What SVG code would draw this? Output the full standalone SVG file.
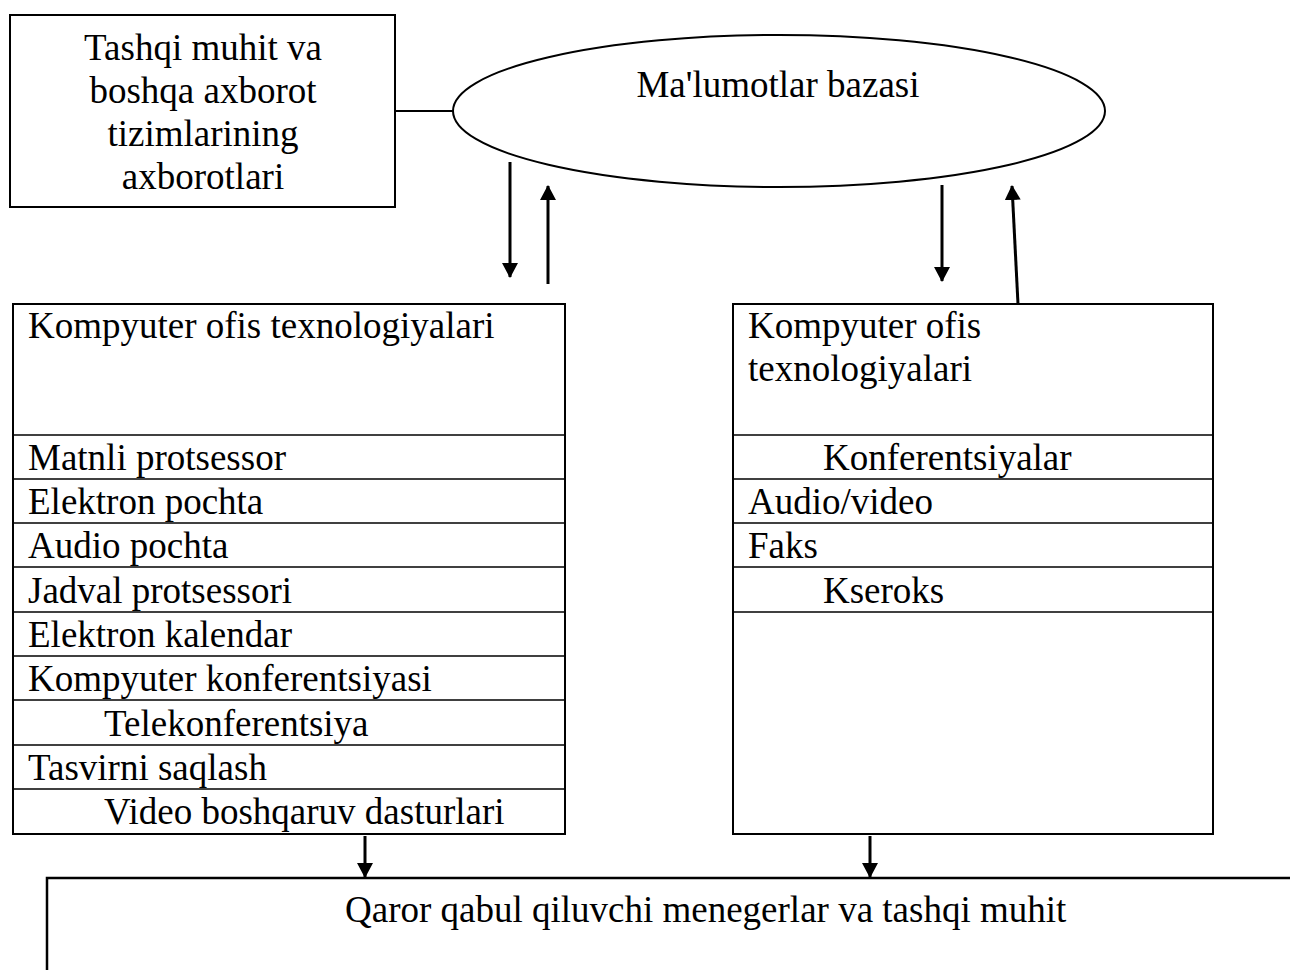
<svg xmlns="http://www.w3.org/2000/svg" width="1290" height="970" viewBox="0 0 1290 970">
  <style>
    .box { fill: #fff; stroke: #000; stroke-width: 2; }
    .row { stroke: #000; stroke-width: 1.5; }
    .t { font-family: "Liberation Serif", "Times New Roman", serif; font-size: 37px; fill: #000; }
    .c { text-anchor: middle; }
    .conn { stroke: #000; stroke-width: 3; fill: none; marker-end: url(#ah); }
  </style>
  <defs>
    <!-- solid triangular arrowhead -->
    <marker id="ah" viewBox="0 0 15 16" refX="14" refY="8" markerWidth="15" markerHeight="16" markerUnits="userSpaceOnUse" orient="auto">
      <path d="M0,0 L15,8 L0,16 Z" fill="#000" stroke="none"/>
    </marker>
  </defs>
  <rect width="1290" height="970" fill="#fff"/>

  <!-- external information sources -->
  <g id="external">
    <rect class="box" x="10" y="15" width="385" height="192"/>
    <text class="t c" x="203" y="60">Tashqi muhit va</text>
    <text class="t c" x="203" y="103">boshqa axborot</text>
    <text class="t c" x="203" y="146">tizimlarining</text>
    <text class="t c" x="203" y="189">axborotlari</text>
  </g>

  <!-- database -->
  <g id="database">
    <ellipse cx="779" cy="111" rx="326" ry="76" fill="#fff" stroke="#000" stroke-width="2"/>
    <text class="t c" x="778" y="97">Ma'lumotlar bazasi</text>
  </g>

  <!-- left technology column -->
  <g id="office-left">
    <rect class="box" x="13" y="304" width="552" height="530"/>
    <line class="row" x1="13" y1="435" x2="565" y2="435"/>
    <line class="row" x1="13" y1="479" x2="565" y2="479"/>
    <line class="row" x1="13" y1="523" x2="565" y2="523"/>
    <line class="row" x1="13" y1="567" x2="565" y2="567"/>
    <line class="row" x1="13" y1="612" x2="565" y2="612"/>
    <line class="row" x1="13" y1="656" x2="565" y2="656"/>
    <line class="row" x1="13" y1="700" x2="565" y2="700"/>
    <line class="row" x1="13" y1="745" x2="565" y2="745"/>
    <line class="row" x1="13" y1="789" x2="565" y2="789"/>
    <text class="t" x="28" y="338">Kompyuter ofis texnologiyalari</text>
    <text class="t" x="28" y="470">Matnli protsessor</text>
    <text class="t" x="28" y="514">Elektron pochta</text>
    <text class="t" x="28" y="558">Audio pochta</text>
    <text class="t" x="28" y="603">Jadval protsessori</text>
    <text class="t" x="28" y="647">Elektron kalendar</text>
    <text class="t" x="28" y="691">Kompyuter konferentsiyasi</text>
    <text class="t" x="104" y="736">Telekonferentsiya</text>
    <text class="t" x="28" y="780">Tasvirni saqlash</text>
    <text class="t" x="104" y="824">Video boshqaruv dasturlari</text>
  </g>

  <!-- right technology column -->
  <g id="office-right">
    <rect class="box" x="733" y="304" width="480" height="530"/>
    <line class="row" x1="733" y1="435" x2="1213" y2="435"/>
    <line class="row" x1="733" y1="479" x2="1213" y2="479"/>
    <line class="row" x1="733" y1="523" x2="1213" y2="523"/>
    <line class="row" x1="733" y1="567" x2="1213" y2="567"/>
    <line class="row" x1="733" y1="612" x2="1213" y2="612"/>
    <text class="t" x="748" y="338">Kompyuter ofis</text>
    <text class="t" x="748" y="381">texnologiyalari</text>
    <text class="t" x="823" y="470">Konferentsiyalar</text>
    <text class="t" x="748" y="514">Audio/video</text>
    <text class="t" x="748" y="558">Faks</text>
    <text class="t" x="823" y="603">Kseroks</text>
  </g>

  <!-- decision makers -->
  <g id="decision">
    <path d="M47,970 V878 H1290" fill="none" stroke="#000" stroke-width="2.5"/>
    <text class="t" x="345" y="922">Qaror qabul qiluvchi menegerlar va tashqi muhit</text>
  </g>

  <!-- connectors -->
  <g id="connectors">
    <line x1="395" y1="111" x2="454" y2="111" stroke="#000" stroke-width="2"/>
    <line class="conn" x1="510" y1="162" x2="510" y2="277"/>
    <line class="conn" x1="548" y1="284" x2="548" y2="186"/>
    <line class="conn" x1="942" y1="185" x2="942" y2="281"/>
    <line class="conn" x1="1018" y1="304" x2="1012" y2="186"/>
    <line class="conn" x1="365" y1="836" x2="365" y2="877"/>
    <line class="conn" x1="870" y1="836" x2="870" y2="877"/>
  </g>
</svg>
